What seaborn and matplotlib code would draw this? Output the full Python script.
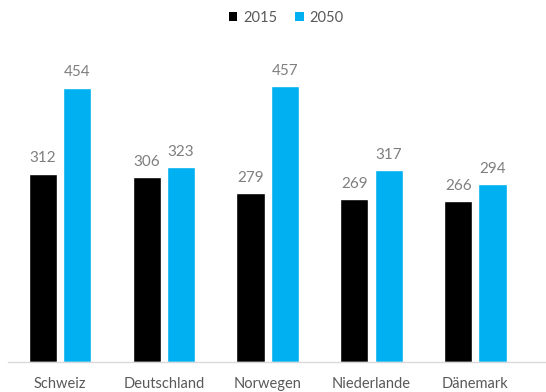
import matplotlib
matplotlib.use("Agg")
import matplotlib.pyplot as plt
import seaborn as sns
import pandas as pd
from matplotlib.patches import Patch

countries = ["Schweiz", "Deutschland", "Norwegen", "Niederlande", "Dänemark"]
years = ["2015", "2050"]
values_2015 = [312, 306, 279, 269, 266]
values_2050 = [454, 323, 457, 317, 294]
colors = ["#000000", "#00B0F0"]

df = pd.DataFrame({
    "Land": countries * 2,
    "Jahr": [years[0]] * len(countries) + [years[1]] * len(countries),
    "Wert": values_2015 + values_2050,
})

sns.set_theme(style="white")
plt.rcParams["font.family"] = ["Lato", "DejaVu Sans"]

fig = plt.figure(figsize=(5.46, 3.92), dpi=100)
ax = fig.add_axes([8 / 546, 30 / 392, 538 / 546, 322 / 392])

sns.barplot(data=df, x="Land", y="Wert", hue="Jahr", palette=colors,
            width=0.66, gap=0.18, ax=ax, legend=False, saturation=1)

for container in ax.containers:
    ax.bar_label(container, fmt="%d", padding=6, color="#7F7F7F", fontsize=11)

ax.set_xlim(-0.5, 4.68)
ax.set_ylim(0, 533)
ax.set_xlabel("")
ax.set_ylabel("")
ax.set_yticks([])
for s in ["left", "right", "top"]:
    ax.spines[s].set_visible(False)
ax.spines["bottom"].set_color("#D9D9D9")
ax.spines["bottom"].set_linewidth(1)
ax.tick_params(axis="x", length=0, pad=11, labelsize=10.5, labelcolor="#595959")

handles = [Patch(facecolor=c, edgecolor="none") for c in colors]
fig.legend(handles, years, loc="center", bbox_to_anchor=(286 / 546, 1 - 18 / 392),
           ncol=2, frameon=False, fontsize=10.5, labelcolor="#595959",
           handlelength=0.6, handleheight=0.6, handletextpad=0.4, columnspacing=1.2)

fig.savefig("out.png", dpi=100)
